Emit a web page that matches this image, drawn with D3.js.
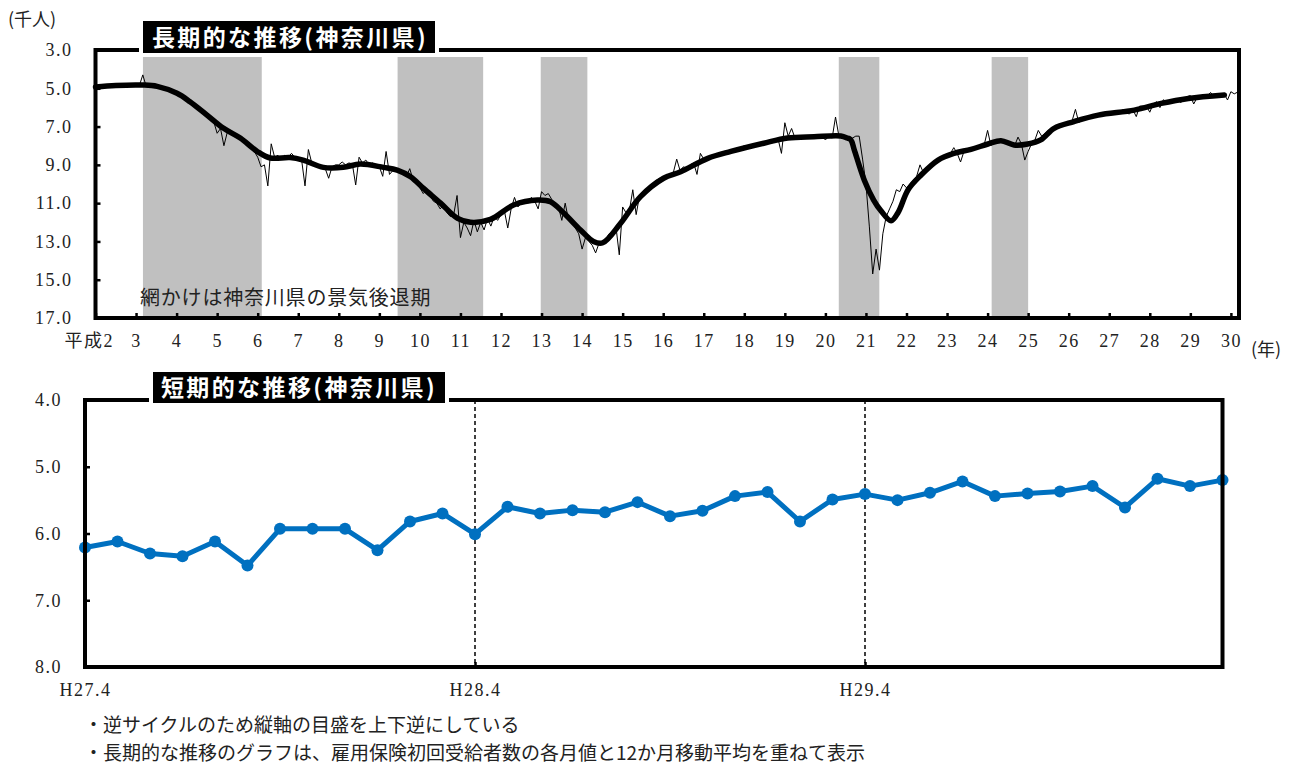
<!DOCTYPE html>
<html>
<head>
<meta charset="utf-8">
<script src="https://cdn.jsdelivr.net/npm/d3@7/dist/d3.min.js"></script>
<style>
  body { margin: 0; background: #fff; }
</style>
</head>
<body>
<script>
// 雇用保険初回受給者数 各月値 (千人) H2.1 - H27.3
const monthlyEarly = [
  4.95,4.9,4.85,4.9,4.85,4.9,4.85,4.8,4.85,4.8,4.85,4.8,        // H2
  4.8,4.85,4.3,4.9,4.85,4.9,4.95,4.9,5.0,5.05,5.1,5.2,          // H3
  5.25,5.3,5.4,5.55,5.7,5.8,6.0,6.15,6.3,6.4,6.55,6.75,         // H4
  7.35,7.1,8.0,7.3,7.4,7.5,7.6,7.7,7.8,8.0,8.1,8.3,             // H5
  8.6,9.1,9.0,10.1,7.9,8.6,8.5,8.7,8.5,8.6,8.4,8.6,             // H6
  8.7,8.75,10.1,8.2,8.9,9.0,9.05,9.1,9.2,9.7,9.1,9.0,           // H7
  9.0,8.85,9.0,8.9,8.95,10.05,8.6,8.9,8.75,9.0,8.9,9.0,         // H8
  9.1,9.6,8.3,9.5,9.3,9.3,9.4,9.5,9.6,9.2,9.8,10.0,             // H9
  10.2,10.5,10.3,10.6,10.9,11.0,11.3,11.1,11.5,11.7,11.6,10.6,  // H10
  12.8,12.0,12.3,12.7,11.9,12.5,12.0,12.4,11.8,12.2,11.7,11.9,  // H11
  11.6,11.4,12.3,11.3,10.7,11.2,11.0,10.8,11.0,10.7,10.9,11.3,  // H12
  10.4,10.6,10.5,10.8,11.0,11.2,11.9,11.0,11.9,12.0,12.3,12.6,  // H13
  13.4,12.8,13.0,13.2,13.6,13.1,13.0,12.9,12.6,12.5,12.2,13.7,  // H14
  11.2,11.5,11.4,10.3,11.6,10.6,10.4,10.3,10.1,10.0,9.8,9.7,    // H15
  9.7,9.5,9.6,9.4,8.7,9.3,9.1,9.2,9.0,8.9,9.5,8.4,              // H16
  8.7,8.6,8.6,8.5,8.5,8.4,8.3,8.3,8.2,8.2,8.1,8.1,              // H17
  8.0,8.0,7.95,7.9,7.9,7.85,7.8,7.8,7.7,7.7,7.65,8.4,           // H18
  6.8,7.5,7.1,7.6,7.5,7.5,7.55,7.5,7.55,7.5,7.5,7.5,            // H19
  7.7,7.5,7.6,6.5,7.5,7.5,7.6,7.5,7.6,7.5,7.5,8.7,              // H20
  10.0,12.2,14.7,13.4,14.5,12.6,11.7,11.3,10.9,10.3,10.4,10.0,  // H21
  10.2,10.0,9.8,9.6,9.0,9.4,9.2,9.0,8.85,8.75,8.65,8.55,        // H22
  8.5,8.4,8.1,8.4,8.85,8.3,8.25,8.2,8.1,8.05,8.0,7.95,          // H23
  7.2,8.0,7.8,7.75,7.7,7.8,7.9,8.0,8.0,7.55,7.9,8.75,           // H24
  8.3,7.9,7.7,7.2,7.5,7.35,7.2,7.1,7.0,6.95,6.9,6.8,            // H25
  6.8,6.7,6.1,6.8,6.6,6.55,6.5,6.5,6.4,6.4,6.35,6.3,            // H26
  6.3,6.25,6.2                                                  // H27.1-3
];

// 短期 H27.4 - H30.3 (千人)
const shortLabels = ["H27.4", "H28.4", "H29.4"];
const shortValues = [
  6.21,6.12,6.30,6.34,6.12,6.48,5.93,5.93,5.93,6.25,5.82,5.70,
  6.01,5.60,5.70,5.65,5.68,5.53,5.74,5.66,5.44,5.38,5.82,5.49,
  5.41,5.50,5.39,5.22,5.44,5.40,5.37,5.29,5.61,5.18,5.29,5.20
];

const monthlyAll = monthlyEarly.concat(shortValues);

// 12か月移動平均 (年の位置, 値)
const trendYears = [2.0,2.5,3.17,3.52,4.01,4.33,4.75,5.15,5.57,5.99,6.31,6.8,7.12,7.62,8.11,8.53,
  9.1,9.44,9.77,10.09,10.51,10.93,11.25,11.74,12.31,12.9,13.22,13.54,13.96,14.28,14.51,14.95,
  15.44,16.01,16.43,17.1,17.67,18.48,19.07,19.72,20.38,20.54,20.63,20.71,20.96,21.19,21.37,21.62,
  21.79,22.04,22.36,22.78,23.17,23.59,24.01,24.33,24.65,24.99,25.31,25.64,26.13,26.73,27.62,
  28.28,28.95,29.84];
const trendValues = [4.93,4.85,4.83,4.9,5.26,5.7,6.4,7.08,7.6,8.3,8.64,8.62,8.75,9.13,9.13,8.96,
  9.13,9.27,9.62,10.23,11.0,11.8,12.0,11.85,11.1,10.84,10.93,11.5,12.4,13.0,13.07,12.05,
  10.66,9.7,9.36,8.66,8.3,7.87,7.6,7.53,7.49,7.6,7.7,8.2,9.8,10.84,11.4,11.92,
  11.5,10.3,9.53,8.75,8.4,8.19,7.91,7.74,7.96,7.91,7.7,7.09,6.74,6.4,6.14,
  5.79,5.53,5.35];

// 景気後退期
const bandStart = [3.17, 9.45, 12.98, 20.33, 24.1];
const bandEnd   = [6.1, 11.56, 14.13, 21.33, 25.0];

const yearTicks = d3.range(2, 31);
const longYTicks = [3, 5, 7, 9, 11, 13, 15, 17];
const shortYTicks = [4, 5, 6, 7, 8];

const serif = "'Liberation Serif', 'Noto Sans CJK JP', serif";
const jp = "'Noto Sans CJK JP', sans-serif";

const svg = d3.select("body").append("svg")
  .attr("width", 1298)
  .attr("height", 767);

svg.append("rect").attr("width", 1298).attr("height", 767).attr("fill", "#fff");

// ---------- 長期 ----------
const x1 = d3.scaleLinear().domain([2, 30.2]).range([95.5, 1239]);
const y1 = d3.scaleLinear().domain([3, 17]).range([50, 318]);

let topG = svg.append("g");

topG.selectAll(".band")
  .data(bandStart)
  .enter().append("rect")
  .attr("x", (d) => x1(d))
  .attr("width", (d, i) => x1(bandEnd[i]) - x1(d))
  .attr("y", y1(3) + 7)
  .attr("height", y1(17) - y1(3) - 7)
  .attr("fill", "#c0c0c0");

topG.append("text")
  .attr("x", 140)
  .attr("y", 305)
  .style("font-family", jp)
  .style("font-size", "20px")
  .style("letter-spacing", "0.8px")
  .attr("fill", "#222")
  .text("網かけは神奈川県の景気後退期");

topG.append("path")
  .datum(monthlyAll)
  .attr("fill", "none")
  .attr("stroke", "#000")
  .attr("stroke-width", 1)
  .attr("d", d3.line().x((d, i) => x1(2 + i / 12)).y(d => y1(d)));

topG.append("path")
  .datum(trendYears)
  .attr("fill", "none")
  .attr("stroke", "#000")
  .attr("stroke-width", 5.5)
  .attr("stroke-linejoin", "round")
  .attr("stroke-linecap", "round")
  .attr("d", d3.line().curve(d3.curveCatmullRom.alpha(0.5))
    .x(d => x1(d)).y((d, i) => y1(trendValues[i])));

let yAxis1 = topG.append("g")
  .attr("transform", "translate(95.5,0)")
  .call(d3.axisLeft(y1).tickValues(longYTicks).tickSize(-5).tickPadding(23)
    .tickFormat(d3.format(".1f")));

let xAxis1 = topG.append("g")
  .attr("transform", "translate(0,318)")
  .call(d3.axisBottom(x1).tickValues(yearTicks).tickSize(-5).tickPadding(16)
    .tickFormat(d => d === 2 ? "平成2" : d));

[yAxis1, xAxis1].forEach(g => {
  g.select(".domain").remove();
  g.selectAll(".tick line").attr("stroke", "#000").attr("stroke-width", 2.5);
  g.selectAll("text")
    .style("font-family", serif)
    .style("font-size", "18px")
    .style("letter-spacing", "1.5px")
    .attr("fill", "#222");
});
xAxis1.selectAll(".tick").filter(d => d === 2).select("text")
  .attr("text-anchor", "end").attr("x", 18);

topG.append("rect")
  .attr("x", 95.5).attr("y", 50)
  .attr("width", 1239 - 95.5).attr("height", 268)
  .attr("fill", "none").attr("stroke", "#000").attr("stroke-width", 4);

// タイトル
topG.append("rect").attr("x", 139).attr("y", 17).attr("width", 300).attr("height", 39).attr("fill", "#fff");
topG.append("rect").attr("x", 143).attr("y", 21).attr("width", 292).attr("height", 32).attr("fill", "#000");
topG.append("text")
  .attr("x", 290).attr("y", 46)
  .attr("text-anchor", "middle")
  .style("font-family", jp).style("font-weight", "bold").style("font-size", "23px")
  .style("letter-spacing", "2.4px")
  .attr("fill", "#fff")
  .text("長期的な推移(神奈川県)");

svg.append("text")
  .attr("x", 8).attr("y", 26)
  .style("font-family", jp).style("font-size", "18px").attr("fill", "#222")
  .text("(千人)");

svg.append("text")
  .attr("x", 1251).attr("y", 356)
  .style("font-family", jp).style("font-size", "18px").attr("fill", "#222")
  .text("(年)");

// ---------- 短期 ----------
const x2 = d3.scaleLinear().domain([0, 35]).range([85, 1222.5]);
const y2 = d3.scaleLinear().domain([4, 8]).range([400, 667]);

let bottomG = svg.append("g");

bottomG.selectAll(".vline")
  .data([12, 24])
  .enter().append("line")
  .attr("x1", d => x2(d)).attr("x2", d => x2(d))
  .attr("y1", y2(4)).attr("y2", y2(8))
  .attr("stroke", "#000").attr("stroke-width", 1.5)
  .attr("stroke-dasharray", "4,3");

let yAxis2 = bottomG.append("g")
  .attr("transform", "translate(85,0)")
  .call(d3.axisLeft(y2).tickValues(shortYTicks).tickSize(-5).tickPadding(23)
    .tickFormat(d3.format(".1f")));

let xAxis2 = bottomG.append("g")
  .attr("transform", "translate(0,667)")
  .call(d3.axisBottom(x2).tickValues([0, 12, 24]).tickSize(-5).tickPadding(16)
    .tickFormat((d, i) => shortLabels[i]));

[yAxis2, xAxis2].forEach(g => {
  g.select(".domain").remove();
  g.selectAll(".tick line").attr("stroke", "#000").attr("stroke-width", 2.5);
  g.selectAll("text")
    .style("font-family", serif)
    .style("font-size", "18px")
    .style("letter-spacing", "1.5px")
    .attr("fill", "#222");
});

bottomG.append("path")
  .datum(shortValues)
  .attr("fill", "none")
  .attr("stroke", "#0070C0")
  .attr("stroke-width", 5)
  .attr("stroke-linejoin", "round")
  .attr("d", d3.line().x((d, i) => x2(i)).y(d => y2(d)));

bottomG.selectAll(".dot")
  .data(shortValues)
  .enter().append("circle")
  .attr("cx", (d, i) => x2(i))
  .attr("cy", d => y2(d))
  .attr("r", 6)
  .attr("fill", "#0070C0");

bottomG.append("rect")
  .attr("x", 85).attr("y", 400)
  .attr("width", 1222.5 - 85).attr("height", 267)
  .attr("fill", "none").attr("stroke", "#000").attr("stroke-width", 4);

bottomG.append("rect").attr("x", 149).attr("y", 368).attr("width", 300).attr("height", 39).attr("fill", "#fff");
bottomG.append("rect").attr("x", 153).attr("y", 372).attr("width", 292).attr("height", 31).attr("fill", "#000");
bottomG.append("text")
  .attr("x", 299).attr("y", 396)
  .attr("text-anchor", "middle")
  .style("font-family", jp).style("font-weight", "bold").style("font-size", "23px")
  .style("letter-spacing", "2.4px")
  .attr("fill", "#fff")
  .text("短期的な推移(神奈川県)");

// 注記
const notes = [
  "・逆サイクルのため縦軸の目盛を上下逆にしている",
  "・長期的な推移のグラフは、雇用保険初回受給者数の各月値と12か月移動平均を重ねて表示"
];
svg.selectAll(".note")
  .data(notes)
  .enter().append("text")
  .attr("x", 84)
  .attr("y", (d, i) => 732 + i * 28)
  .style("font-family", jp).style("font-size", "19px")
  .attr("fill", "#222")
  .text(d => d);
</script>
</body>
</html>
